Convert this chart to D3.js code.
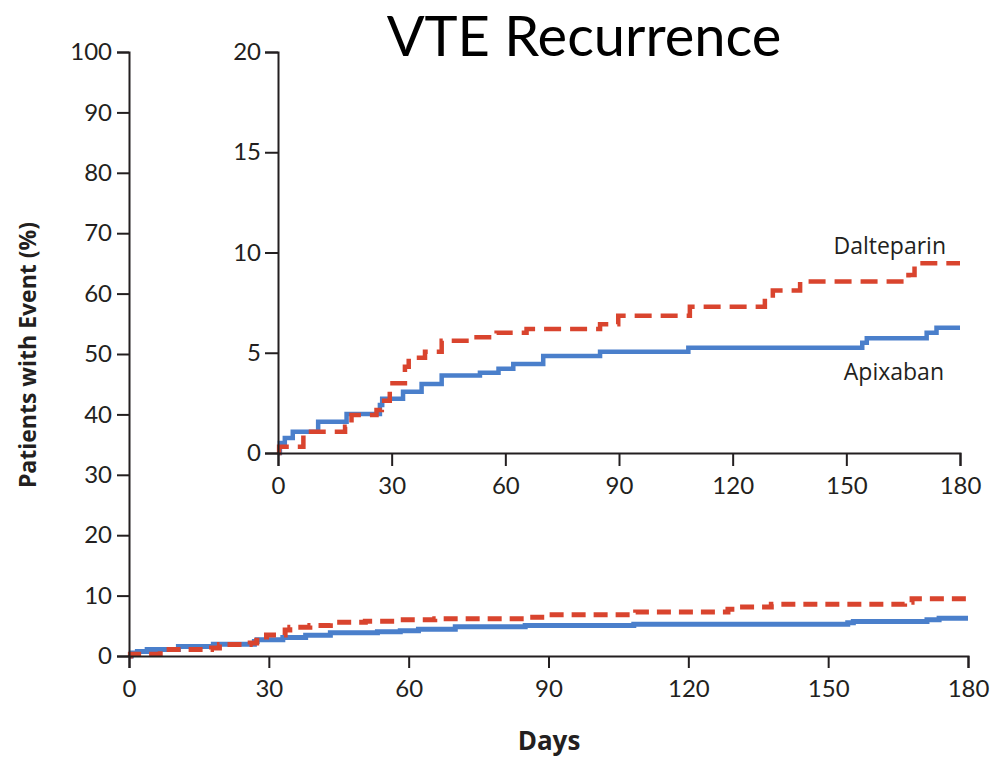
<!DOCTYPE html>
<html>
<head>
<meta charset="utf-8">
<script src="https://cdn.jsdelivr.net/npm/d3@7"></script>
<style>
  html, body { margin: 0; padding: 0; background: #fff; }
  svg { display: block; }
  .tick text { font-family: Lato, "Open Sans", sans-serif; fill: #231f20; }
</style>
</head>
<body>
<svg id="chart" width="995" height="760"></svg>
<script>
// ---- Data ----
const title = "VTE Recurrence";
const yLabel = "Patients with Event (%)";
const xLabel = "Days";
const seriesNames = ["Apixaban", "Dalteparin"];

const apixabanDays = [0, 0.5, 1.8, 3.9, 10.6, 18.1, 26.9, 27.5, 33, 37.9, 43.2, 53.3, 58.2, 62.1, 70, 85, 108.3, 154.2, 155.4, 171.2, 173.8, 180];
const apixabanPct  = [0, 0.5, 0.75, 1.06, 1.56, 1.95, 2.4, 2.7, 3.06, 3.44, 3.86, 4.0, 4.2, 4.44, 4.84, 5.05, 5.25, 5.5, 5.72, 6.0, 6.25, 6.25];

const dalteparinDays = [0, 0.3, 6.7, 17.7, 19.4, 26, 27.4, 29.5, 33.5, 34.5, 38.8, 43.2, 50.7, 57.7, 65.6, 85, 89.8, 108.7, 128.5, 130.6, 137.8, 166.4, 168, 180];
const dalteparinPct  = [0, 0.31, 1.06, 1.31, 1.9, 2.14, 2.6, 3.48, 4.3, 4.75, 5.05, 5.6, 5.77, 6.0, 6.18, 6.42, 6.85, 7.3, 7.72, 8.1, 8.55, 8.88, 9.46, 9.46];

const xTicks = [0, 30, 60, 90, 120, 150, 180];
const mainYTicks = [0, 10, 20, 30, 40, 50, 60, 70, 80, 90, 100];
const insetYTicks = [0, 5, 10, 15, 20];

// ---- Build ----
const svg = d3.select("#chart");
const ink = "#231f20";
const blue = "#4a7fcb";
const red = "#d9442e";

const series = [
  { name: seriesNames[0], pts: apixabanDays.map((d, i) => [d, apixabanPct[i]]), color: blue, dash: null },
  { name: seriesNames[1], pts: dalteparinDays.map((d, i) => [d, dalteparinPct[i]]), color: red, dash: true }
];

function styleAxis(g, fontSize) {
  g.select(".domain").attr("stroke", ink).attr("stroke-width", 2);
  g.selectAll(".tick line").attr("stroke", ink).attr("stroke-width", 2);
  g.selectAll(".tick text").attr("font-size", fontSize);
}

// Main chart
const mx = d3.scaleLinear().domain([0, 180]).range([129, 968]);
const my = d3.scaleLinear().domain([0, 100]).range([656, 52]);

// Inset chart
const ix = d3.scaleLinear().domain([0, 180]).range([278, 960]);
const iy = d3.scaleLinear().domain([0, 20]).range([453, 52]);

function drawPanel(x, y, yTicks, opts) {
  const line = d3.line().curve(d3.curveStepAfter).x(d => x(d[0])).y(d => y(d[1]));
  const g = svg.append("g");
  series.forEach(s => {
    g.append("path")
      .datum(s.pts)
      .attr("fill", "none")
      .attr("stroke", s.color)
      .attr("stroke-width", opts.lw)
      .attr("stroke-dasharray", s.dash ? opts.dash : null)
      .attr("d", line);
  });
  const ya = g.append("g")
    .attr("transform", `translate(${x.range()[0]},0)`)
    .call(d3.axisLeft(y).tickValues(yTicks).tickSize(opts.tick).tickPadding(opts.ypad).tickFormat(d3.format("d")));
  styleAxis(ya, opts.fs);
  const xa = g.append("g")
    .attr("transform", `translate(0,${y.range()[0]})`)
    .call(d3.axisBottom(x).tickValues(xTicks).tickSize(opts.tick).tickPadding(opts.xpad).tickFormat(d3.format("d")));
  styleAxis(xa, opts.fs);
  return g;
}

drawPanel(mx, my, mainYTicks, { lw: 5, dash: "14,8", tick: 12, ypad: 5, xpad: 12, fs: 24 });
drawPanel(ix, iy, insetYTicks, { lw: 4.5, dash: "17,9", tick: 13, ypad: 4, xpad: 11, fs: 24 });

// Series labels in inset
svg.append("text")
  .attr("x", ix(180) - 14).attr("y", iy(9.95))
  .attr("text-anchor", "end")
  .attr("font-family", "'Open Sans', Lato, sans-serif")
  .attr("font-size", 23).attr("fill", ink)
  .text(seriesNames[1]);
svg.append("text")
  .attr("x", ix(180) - 16).attr("y", iy(3.64))
  .attr("text-anchor", "end")
  .attr("font-family", "'Open Sans', Lato, sans-serif")
  .attr("font-size", 23).attr("fill", ink)
  .text(seriesNames[0]);

// Axis titles
svg.append("text")
  .attr("transform", `translate(36,355) rotate(-90)`)
  .attr("text-anchor", "middle")
  .attr("font-family", "'Open Sans', Lato, sans-serif")
  .attr("font-weight", "bold")
  .attr("font-size", 23).attr("fill", ink)
  .text(yLabel);
svg.append("text")
  .attr("x", 549).attr("y", 750)
  .attr("text-anchor", "middle")
  .attr("font-family", "'Open Sans', Lato, sans-serif")
  .attr("font-weight", "bold")
  .attr("font-size", 26).attr("fill", ink)
  .text(xLabel);

// Title
svg.append("text")
  .attr("x", 584).attr("y", 56)
  .attr("text-anchor", "middle")
  .attr("font-family", "Lato, 'Open Sans', sans-serif")
  .attr("font-size", 56).attr("fill", "#000")
  .text(title);
</script>
</body>
</html>
